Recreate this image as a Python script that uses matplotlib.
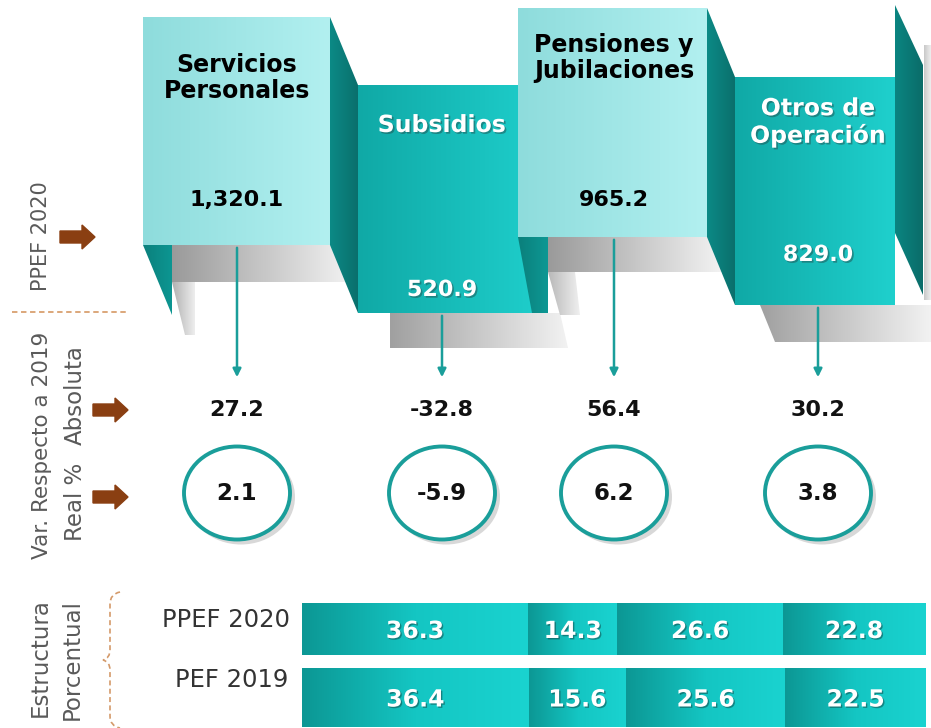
import numpy as np
import matplotlib
matplotlib.use("Agg")
import matplotlib.pyplot as plt
from matplotlib.patches import Polygon, Ellipse, FancyArrow, PathPatch
from matplotlib.path import Path
from matplotlib.colors import LinearSegmentedColormap
import matplotlib.patheffects as pe

# Data read from the infographic
categories = ['Servicios\nPersonales', 'Subsidios', 'Pensiones y\nJubilaciones', 'Otros de\nOperación']
ppef_2020 = [1320.1, 520.9, 965.2, 829.0]
var_abs = [27.2, -32.8, 56.4, 30.2]
var_real = [2.1, -5.9, 6.2, 3.8]
row_labels = ['PPEF 2020', 'PEF 2019']
struct_2020 = [36.3, 14.3, 26.6, 22.8]
struct_2019 = [36.4, 15.6, 25.6, 22.5]

# Panel layout (pixels): x0, x1, top, bottom, light panel?, title y, value y, centre x
panels = [
    (143, 330, 17, 245, True, 78, 200, 237),
    (358, 548, 85, 313, False, 125, 290, 442),
    (518, 707, 8, 237, True, 58, 200, 614),
    (735, 895, 77, 305, False, 122, 255, 818),
]

plt.rcParams['font.family'] = ['DejaVu Sans']
TEAL = '#1a9e9a'
BROWN = '#8a3f12'

fig = plt.figure(figsize=(9.31, 7.28), dpi=100)
ax = fig.add_axes([0, 0, 1, 1])
ax.set_xlim(0, 931)
ax.set_ylim(728, 0)
ax.set_autoscale_on(False)
ax.axis('off')


def grad_poly(verts, c1, c2, z=2, vertical=False):
    poly = Polygon(verts, closed=True, facecolor='none', edgecolor='none', zorder=z)
    ax.add_patch(poly)
    xs = [v[0] for v in verts]
    ys = [v[1] for v in verts]
    cmap = LinearSegmentedColormap.from_list('g', [c1, c2])
    g = np.linspace(0, 1, 256)
    g = g.reshape(-1, 1) if vertical else g.reshape(1, -1)
    im = ax.imshow(g, cmap=cmap, extent=[min(xs), max(xs), max(ys), min(ys)],
                   aspect='auto', zorder=z, interpolation='bilinear', origin='upper')
    im.set_clip_path(poly)


# shadows under the panels
grad_poly([(172, 245), (345, 245), (355, 282), (172, 282)], '#9a9a9a', '#f4f4f4', z=1)
grad_poly([(172, 282), (195, 282), (195, 335), (185, 335)], '#b0b0b0', '#eeeeee', z=1)
grad_poly([(390, 313), (560, 313), (568, 348), (390, 348)], '#a0a0a0', '#f2f2f2', z=1)
grad_poly([(548, 237), (715, 237), (725, 272), (548, 272)], '#9a9a9a', '#f4f4f4', z=1)
grad_poly([(548, 272), (575, 272), (580, 315), (560, 315)], '#b8b8b8', '#f0f0f0', z=1)
grad_poly([(760, 305), (931, 305), (931, 342), (775, 342)], '#a0a0a0', '#f2f2f2', z=1)
grad_poly([(924, 45), (931, 45), (931, 300), (924, 300)], '#c8c8c8', '#eeeeee', z=1)

# dark folds between the panels
grad_poly([(143, 245), (172, 245), (172, 315)], '#0b807c', '#0d9692', z=2)
grad_poly([(330, 17), (358, 85), (358, 313), (330, 245)], '#0c8a86', '#0a6f6c', z=2)
grad_poly([(518, 237), (548, 237), (548, 313), (532, 313)], '#0b7f7b', '#0d9894', z=4)
grad_poly([(707, 8), (735, 77), (735, 305), (707, 237)], '#0c8a86', '#0a6f6c', z=2)
grad_poly([(895, 5), (923, 65), (923, 295), (895, 233)], '#0b8581', '#0a6c69', z=2)

# panels
for i, (x0, x1, y0, y1, light, ty, vy, cx) in enumerate(panels):
    if light:
        c1, c2, tc = '#8edcdc', '#b2f0f0', 'black'
        fx = []
    else:
        c1, c2, tc = '#10a9a6', '#1fd0cd', 'white'
        fx = [pe.withSimplePatchShadow(offset=(1.2, -1.2), shadow_rgbFace='#205050', alpha=0.5)]
    z = 3 if i != 2 else 5
    grad_poly([(x0, y0), (x1, y0), (x1, y1), (x0, y1)], c1, c2, z=z)
    ax.text(cx, ty, categories[i], ha='center', va='center', fontsize=17,
            fontweight='bold', color=tc, linespacing=1.1, zorder=6, path_effects=fx)
    ax.text(cx, vy, f'{ppef_2020[i]:,.1f}', ha='center', va='center', fontsize=16,
            fontweight='bold', color=tc, zorder=6, path_effects=fx)
    # connector arrow down to the variation values
    ax.annotate('', xy=(cx, 380), xytext=(cx, y1), zorder=6,
                arrowprops=dict(arrowstyle='-|>', color=TEAL, lw=1.8, mutation_scale=12))
    # absolute change
    ax.text(cx, 410, f'{var_abs[i]:.1f}', ha='center', va='center', fontsize=16,
            fontweight='bold', color='#111111', zorder=6)
    # real % change in a ring
    ax.add_patch(Ellipse((cx + 4, 497), 108, 95, facecolor='#d8d8d8', edgecolor='none', zorder=5))
    ax.add_patch(Ellipse((cx, 493), 106, 93, facecolor='white', edgecolor=TEAL, lw=2.8, zorder=6))
    ax.text(cx, 494, f'{var_real[i]:.1f}', ha='center', va='center', fontsize=16.5,
            fontweight='bold', color='#111111', zorder=7)

# left side labels
lab = dict(rotation=90, ha='center', va='center', color='#5a5a5a')
ax.text(41, 236, 'PPEF 2020', fontsize=15, **lab)
ax.text(42, 445, 'Var. Respecto a 2019', fontsize=15.5, **lab)
ax.text(75, 395, 'Absoluta', fontsize=16.5, **lab)
ax.text(75, 502, 'Real %', fontsize=16.5, **lab)
ax.text(40, 658, 'Estructura', fontsize=16.5, **lab)
ax.text(72, 660, 'Porcentual', fontsize=16.5, **lab)

for ay, ax0 in [(237, 60), (410, 93), (497, 93)]:
    ax.add_patch(FancyArrow(ax0, ay, 35, 0, width=12, head_width=24, head_length=13,
                            length_includes_head=True, color=BROWN, zorder=6))

ax.plot([12, 128], [312, 312], color='#d9a070', lw=1.3, ls=(0, (3, 2)))

brace = Path([(120, 592), (110, 594), (110, 604), (110, 650), (110, 658), (103, 660),
              (110, 662), (110, 670), (110, 716), (110, 726), (120, 728)],
             [Path.MOVETO, Path.CURVE3, Path.CURVE3, Path.LINETO, Path.CURVE3, Path.CURVE3,
              Path.CURVE3, Path.CURVE3, Path.LINETO, Path.CURVE3, Path.CURVE3])
ax.add_patch(PathPatch(brace, facecolor='none', edgecolor='#d49a6a', lw=1.2, ls=(0, (3, 2))))

ax.text(290, 620, row_labels[0], ha='right', va='center', fontsize=17.5, color='#333333')
ax.text(288, 680, row_labels[1], ha='right', va='center', fontsize=17.5, color='#333333')

# percentage structure bars
bx = fig.add_axes([302 / 931, 1 - 727 / 728, 623 / 931, 124 / 728])
bx.set_xlim(0, 100)
bx.set_ylim(727, 603)
bx.set_autoscale_on(False)
bx.axis('off')
rows_y = [629, 697.5]
rows_h = [52, 59]
for r, vals in enumerate([struct_2020, struct_2019]):
    bars = bx.barh(rows_y[r], vals, left=np.cumsum([0] + vals[:-1]), height=rows_h[r],
                   color='none', edgecolor='none')
    for b, v in zip(bars, vals):
        x0, y0, w, h = b.get_x(), b.get_y(), b.get_width(), b.get_height()
        cmap = LinearSegmentedColormap.from_list('b', ['#0c9794', '#14c6c3', '#1ad3d0'])
        im = bx.imshow(np.linspace(0, 1, 256).reshape(1, -1), cmap=cmap,
                       extent=[x0, x0 + w, y0 + h, y0], aspect='auto', zorder=2)
        im.set_clip_path(b)
        bx.text(x0 + w / 2, y0 + h / 2 + 2, f'{v:.1f}', ha='center', va='center',
                fontsize=17, fontweight='bold', color='white', zorder=3,
                path_effects=[pe.withSimplePatchShadow(offset=(1, -1), shadow_rgbFace='#104040', alpha=0.5)])

fig.savefig('out.png', dpi=100)
